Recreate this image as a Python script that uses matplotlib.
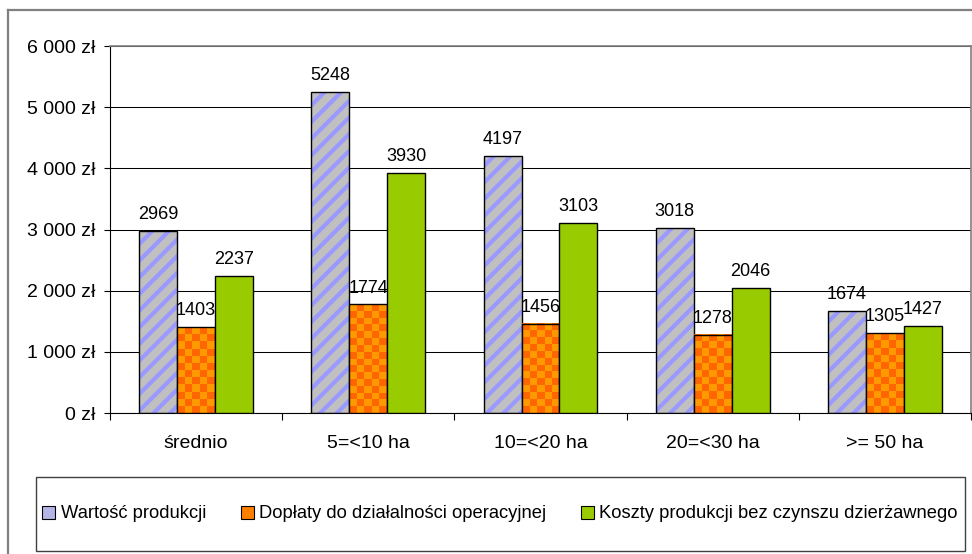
import numpy as np
import matplotlib.pyplot as plt
from matplotlib.colors import ListedColormap
from matplotlib.patches import Patch, Rectangle
from matplotlib.lines import Line2D

plt.rcParams['font.family'] = ['Liberation Sans', 'DejaVu Sans']
plt.rcParams['hatch.linewidth'] = 3.0

categories = ['średnio', '5=<10 ha', '10=<20 ha', '20=<30 ha', '>= 50 ha']
wartosc = [2969, 5248, 4197, 3018, 1674]
doplaty = [1403, 1774, 1456, 1278, 1305]
koszty = [2237, 3930, 3103, 2046, 1427]
series_names = ['Wartość produkcji',
                'Dopłaty do działalności operacyjnej',
                'Koszty produkcji bez czynszu dzierżawnego']
yticks = [0, 1000, 2000, 3000, 4000, 5000, 6000]

W, H = 972, 554
fig = plt.figure(figsize=(W / 100, H / 100), dpi=100)
ax = fig.add_axes([110 / W, 141 / H, 861 / W, 367 / H])

x = np.arange(len(categories))
w = 0.22
ax.set_xlim(-0.5, len(categories) - 0.5)
ax.set_ylim(0, 6000)

# striped bars: grey face, blue diagonal hatch, black outline on top
ax.bar(x - w, wartosc, w, color='#C0C0C0', edgecolor='#9999FF', linewidth=0,
       hatch='//', zorder=2)
ax.bar(x - w, wartosc, w, fill=False, edgecolor='black', linewidth=1, zorder=2.2)

# checkerboard bars
orange = ax.bar(x, doplaty, w, color='#FF6600', linewidth=0, zorder=3)
cmap = ListedColormap(['#FF6600', '#FF9900'])
cell = 7
for r in orange:
    x0, y0 = r.get_x(), 0
    x1, y1 = x0 + r.get_width(), r.get_height()
    p0 = ax.transData.transform((x0, y0))
    p1 = ax.transData.transform((x1, y1))
    nx = max(1, int(round((p1[0] - p0[0]) / cell)))
    ny = max(1, int(round((p1[1] - p0[1]) / cell)))
    board = np.add.outer(np.arange(ny), np.arange(nx)) % 2
    ax.imshow(board, extent=(x0, x1, y0, y1), origin='lower', aspect='auto',
              interpolation='nearest', cmap=cmap, zorder=3.1)
ax.bar(x, doplaty, w, fill=False, edgecolor='black', linewidth=1, zorder=3.2)

ax.bar(x + w, koszty, w, color='#99CC00', edgecolor='black', linewidth=1, zorder=4)

ax.set_xlim(-0.5, len(categories) - 0.5)
ax.set_ylim(0, 6000)

# value labels; each series' labels sit under the next series' bars
for offs, vals, z in [(-w, wartosc, 2.5), (0, doplaty, 3.5), (w, koszty, 4.5)]:
    for xi, v in zip(x + offs, vals):
        ax.annotate(str(v), (xi, v), xytext=(0, 8.6), textcoords='offset points',
                    ha='center', va='baseline', fontsize=13, zorder=z)

ax.set_yticks(yticks)
ax.set_yticklabels([f'{v:,}'.replace(',', ' ') + ' zł' for v in yticks])
ax.tick_params(axis='y', direction='out', length=4.3, width=0.8, pad=6,
               labelsize=14)
ax.yaxis.grid(True, color='black', linewidth=0.75)
ax.set_axisbelow(True)

ax.set_xticks(np.arange(len(categories) + 1) - 0.5)
ax.set_xticklabels([])
ax.set_xticks(x, minor=True)
ax.set_xticklabels(categories, minor=True)
ax.tick_params(axis='x', which='major', direction='out', length=5, width=0.8)
ax.tick_params(axis='x', which='minor', length=0, pad=16, labelsize=14)

for s in ['left', 'bottom']:
    ax.spines[s].set_color('black')
    ax.spines[s].set_linewidth(0.8)
for s in ['top', 'right']:
    ax.spines[s].set_color('#808080')
    ax.spines[s].set_linewidth(1.2)

# outer chart border (clipped at right and bottom)
fig.add_artist(Line2D([8 / W, 8 / W], [0, 1 - 10 / H], transform=fig.transFigure,
                      color='#808080', linewidth=1.6))
fig.add_artist(Line2D([8 / W, 1], [1 - 10 / H, 1 - 10 / H], transform=fig.transFigure,
                      color='#808080', linewidth=1.6))

# legend box
fig.add_artist(Rectangle((36 / W, 3 / H), (965 - 36) / W, 74 / H,
                         transform=fig.transFigure, fill=False,
                         edgecolor='#404040', linewidth=1))
handles = [Patch(facecolor='#B4B4E6', edgecolor='black', linewidth=0.8),
           Patch(facecolor='#FF7F00', edgecolor='black', linewidth=0.8),
           Patch(facecolor='#99CC00', edgecolor='black', linewidth=0.8)]
fig.legend(handles, series_names, loc='center', bbox_to_anchor=(500 / W, 40 / H),
           ncol=3, frameon=False, fontsize=13.2, handlelength=0.7,
           handleheight=0.7, handletextpad=0.3, columnspacing=1.9)

fig.savefig('out.png', dpi=100)
